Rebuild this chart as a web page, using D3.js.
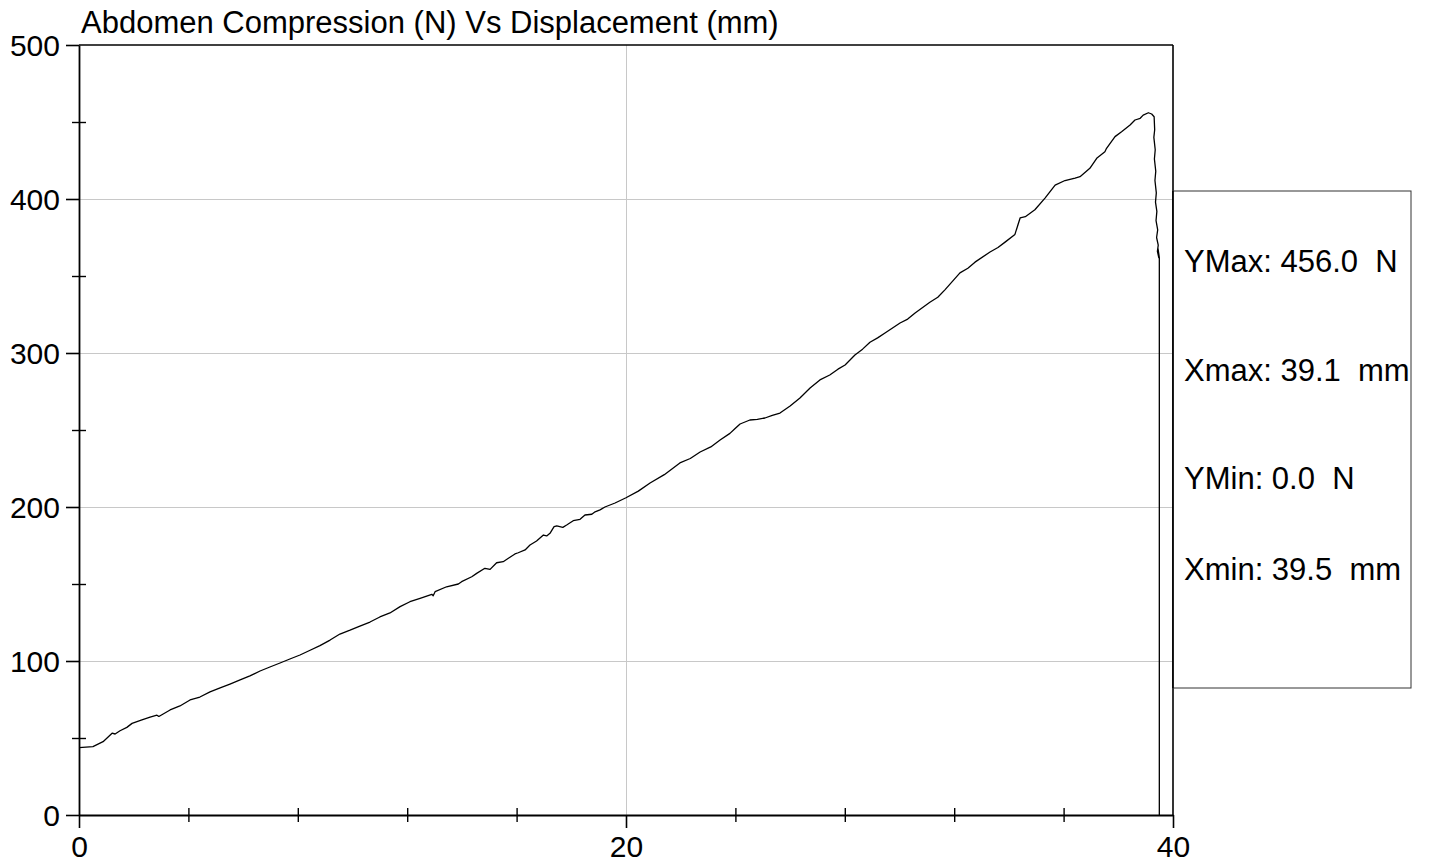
<!DOCTYPE html>
<html>
<head>
<meta charset="utf-8">
<script src="https://cdn.jsdelivr.net/npm/d3@7"></script>
<style>
  html, body { margin: 0; padding: 0; background: #fff; }
  svg { display: block; font-family: "Liberation Sans", Arial, sans-serif; }
  .lbl { white-space: pre; }
</style>
</head>
<body>
<svg id="chart" width="1429" height="867"></svg>
<script>
// ---- data ----
const titleText = "Abdomen Compression (N) Vs Displacement (mm)";
const xMajorTicks = [0, 20, 40];
const xMinorTicks = [4, 8, 12, 16, 24, 28, 32, 36];
const yMajorTicks = [0, 100, 200, 300, 400, 500];
const yMinorTicks = [50, 150, 250, 350, 450];
const legendLabels = ["YMax: 456.0  N", "Xmax: 39.1  mm", "YMin: 0.0  N", "Xmin: 39.5  mm"];

const displacement = [
  0.00, 0.51, 0.88, 1.21, 1.32, 1.50, 1.75, 1.94, 2.30, 2.60, 2.85, 2.92, 3.33, 3.69, 4.06, 4.42,
  4.79, 5.16, 5.52, 5.89, 6.25, 6.62, 6.98, 7.35, 7.71, 8.08, 8.45, 8.81, 9.18, 9.54, 9.91,
  10.27, 10.64, 11.00, 11.37, 11.74, 12.10, 12.47, 12.90, 12.95, 13.02, 13.44, 13.87, 13.99,
  14.36, 14.54, 14.84, 15.03, 15.27, 15.51, 15.70, 15.94, 16.06, 16.31, 16.49, 16.73, 16.98,
  17.10, 17.22, 17.37, 17.47, 17.69, 17.83, 18.07, 18.32, 18.50, 18.75, 18.87, 19.05, 19.23,
  19.60, 20.00, 20.45, 20.88, 21.40, 21.97, 22.35, 22.71, 23.10, 23.44, 23.80, 23.99, 24.17,
  24.53, 24.80, 25.08, 25.35, 25.63, 26.00, 26.36, 26.73, 27.09, 27.45, 27.75, 28.01, 28.37,
  28.65, 28.92, 29.20, 29.47, 30.02, 30.30, 30.57, 31.11, 31.40, 31.66, 32.21, 32.50, 32.76,
  33.31, 33.60, 33.86, 34.22, 34.41, 34.60, 34.95, 35.32, 35.69, 36.05, 36.42, 36.60, 36.96,
  37.21, 37.51, 37.57, 37.88, 38.12, 38.43, 38.61, 38.80, 38.91, 39.10, 39.22, 39.31,
  39.33, 39.30, 39.35, 39.32, 39.37, 39.34, 39.39, 39.36, 39.41, 39.38, 39.44, 39.40, 39.46,
  39.43, 39.48, 39.45, 39.50, 39.50
];
const force = [
  43.7, 44.4, 47.6, 53.1, 52.6, 54.7, 56.9, 59.5, 61.7, 63.5, 64.8, 64.0, 68.2, 70.8, 74.7, 76.6,
  79.9, 82.5, 85.0, 87.7, 90.3, 93.5, 96.1, 98.7, 101.3, 103.9, 107.0, 110.0, 113.6, 117.5, 120.0,
  122.7, 125.3, 128.6, 131.2, 135.3, 138.5, 140.7, 143.3, 142.4, 145.0, 148.2, 150.0, 151.5,
  154.7, 156.9, 160.2, 159.5, 163.8, 164.5, 166.7, 169.5, 170.3, 172.1, 175.3, 177.9, 181.8,
  181.2, 182.9, 187.2, 187.7, 186.8, 188.3, 191.1, 192.0, 194.8, 195.3, 196.9, 198.1, 200.0,
  202.6, 206.0, 210.3, 215.6, 221.0, 228.6, 231.5, 235.7, 239.0, 243.5, 247.8, 251.0, 253.9,
  256.5, 256.9, 257.8, 259.5, 261.0, 265.6, 270.8, 277.3, 282.5, 285.7, 289.5, 292.2, 298.7,
  302.5, 307.0, 309.8, 313.0, 319.5, 322.0, 326.0, 333.0, 336.2, 341.0, 352.0, 355.0, 359.0,
  365.6, 368.5, 372.0, 377.0, 387.7, 388.5, 393.0, 400.6, 409.0, 412.0, 413.6, 414.5, 419.9,
  426.4, 430.7, 432.9, 440.5, 443.7, 448.1, 451.3, 452.4, 454.5, 456.0, 455.2, 453.4,
  445.0, 440.0, 432.0, 426.0, 418.0, 412.0, 404.0, 398.0, 392.0, 386.0, 380.0, 375.0, 370.0,
  366.0, 362.0, 368.0, 362.0, 0.0
];

// ---- layout ----
const svg = d3.select("#chart");
const M = { left: 79, top: 45, right: 1173, bottom: 815 };
const W = M.right - M.left, H = M.bottom - M.top;
const FS = 30;
const FS_BIG = 31;

const x = d3.scaleLinear().domain([0, 40]).range([M.left, M.right]);
const y = d3.scaleLinear().domain([0, 500]).range([M.bottom, M.top]);

// gridlines
const gy = svg.append("g").attr("transform", `translate(${M.left},0)`)
  .call(d3.axisLeft(y).tickValues([100, 200, 300, 400]).tickSize(-W).tickFormat(""));
gy.select(".domain").remove();
gy.selectAll("line").attr("stroke", "#c8c8c8").attr("stroke-width", 1);
const gx = svg.append("g").attr("transform", `translate(0,${M.bottom})`)
  .call(d3.axisBottom(x).tickValues([20]).tickSize(-H).tickFormat(""));
gx.select(".domain").remove();
gx.selectAll("line").attr("stroke", "#c8c8c8").attr("stroke-width", 1);

// frame (top and right)
svg.append("line").attr("x1", M.left).attr("x2", M.right).attr("y1", M.top).attr("y2", M.top)
  .attr("stroke", "#000").attr("stroke-width", 1.6);
svg.append("line").attr("x1", M.right).attr("x2", M.right).attr("y1", M.top).attr("y2", M.bottom)
  .attr("stroke", "#000").attr("stroke-width", 1.6);

// legend box
const legendBox = { x0: M.right, x1: 1411, y0: 191, y1: 688 };
svg.append("rect").attr("x", legendBox.x0).attr("y", legendBox.y0)
  .attr("width", legendBox.x1 - legendBox.x0).attr("height", legendBox.y1 - legendBox.y0)
  .attr("fill", "#fff").attr("stroke", "#333").attr("stroke-width", 1);
svg.append("line").attr("x1", M.right).attr("x2", M.right).attr("y1", legendBox.y0).attr("y2", legendBox.y1)
  .attr("stroke", "#000").attr("stroke-width", 1.6);
const legendY = [272, 381, 489, 580];
svg.selectAll("text.leg").data(legendLabels).join("text")
  .attr("class", "leg lbl")
  .attr("x", 1184).attr("y", (d, i) => legendY[i])
  .attr("font-size", FS_BIG).attr("fill", "#000")
  .text(d => d);

// curve
const pts = displacement.map((d, i) => [d, force[i]]);
svg.append("path").datum(pts)
  .attr("fill", "none").attr("stroke", "#000").attr("stroke-width", 1.3)
  .attr("stroke-linejoin", "round")
  .attr("d", d3.line().x(d => x(d[0])).y(d => y(d[1])));

// axes
function styleAxis(g) {
  g.selectAll("line").attr("stroke", "#000").attr("stroke-width", 1.6);
  g.select(".domain").attr("stroke", "#000").attr("stroke-width", 1.8);
  g.selectAll("text").attr("font-size", FS).attr("fill", "#000")
    .attr("font-family", "'Liberation Sans', Arial, sans-serif");
}
const ax = svg.append("g").attr("transform", `translate(0,${M.bottom})`)
  .call(d3.axisBottom(x).tickValues(xMajorTicks).tickSize(13).tickSizeOuter(0).tickPadding(8).tickFormat(d3.format("d")));
styleAxis(ax);
const ay = svg.append("g").attr("transform", `translate(${M.left},0)`)
  .call(d3.axisLeft(y).tickValues(yMajorTicks).tickSize(13).tickSizeOuter(0).tickPadding(6).tickFormat(d3.format("d")));
styleAxis(ay);
ay.selectAll("text").attr("dy", "0.36em");

// minor ticks crossing the axes
const mx1 = svg.append("g").attr("transform", `translate(0,${M.bottom})`)
  .call(d3.axisBottom(x).tickValues(xMinorTicks).tickSize(7).tickFormat(""));
const mx2 = svg.append("g").attr("transform", `translate(0,${M.bottom})`)
  .call(d3.axisTop(x).tickValues(xMinorTicks).tickSize(7).tickFormat(""));
const my1 = svg.append("g").attr("transform", `translate(${M.left},0)`)
  .call(d3.axisLeft(y).tickValues(yMinorTicks).tickSize(7).tickFormat(""));
const my2 = svg.append("g").attr("transform", `translate(${M.left},0)`)
  .call(d3.axisRight(y).tickValues(yMinorTicks).tickSize(7).tickFormat(""));
[mx1, mx2, my1, my2].forEach(g => {
  g.select(".domain").remove();
  g.selectAll("line").attr("stroke", "#000").attr("stroke-width", 1.4);
});

// title
svg.append("text").attr("class", "lbl").attr("x", 81).attr("y", 33)
  .attr("font-size", FS_BIG).attr("fill", "#000").text(titleText);
</script>
</body>
</html>
